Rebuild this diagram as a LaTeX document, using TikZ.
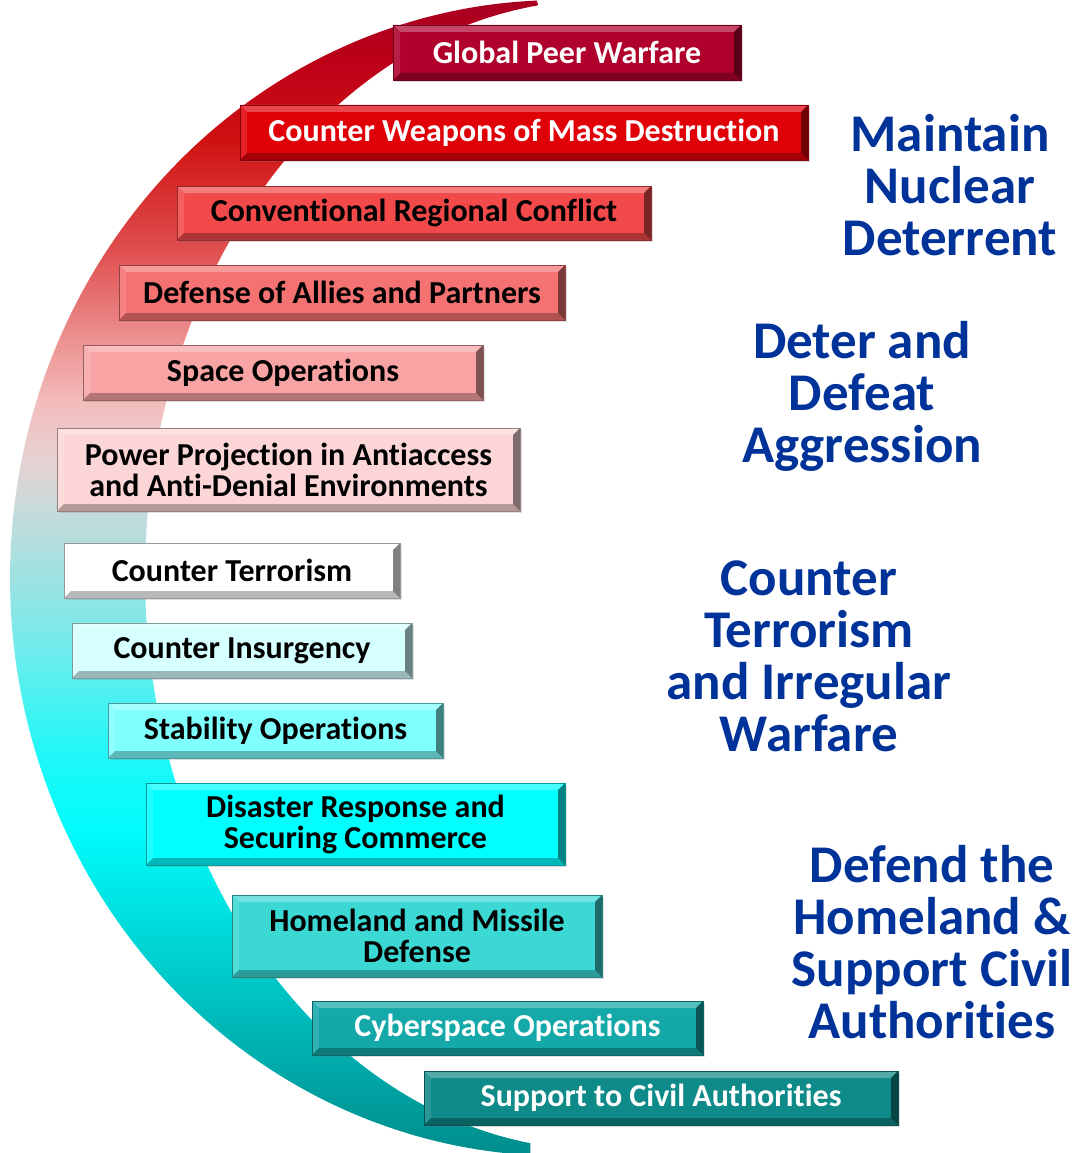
\documentclass[tikz,border=0pt]{standalone}
\usepackage{fontspec}
\setmainfont{Carlito}[Ligatures=NoCommon]
\usetikzlibrary{calc,shadows}
\definecolor{k0}{HTML}{008C8C}
\definecolor{k1}{HTML}{00AEAE}
\definecolor{k2}{HTML}{00D2D2}
\definecolor{k3}{HTML}{00FCFC}
\definecolor{k4}{HTML}{20F8F8}
\definecolor{k5}{HTML}{6EECEC}
\definecolor{k6}{HTML}{9CE2E2}
\definecolor{k7}{HTML}{BEDCDC}
\definecolor{k8}{HTML}{E6D2D2}
\definecolor{k9}{HTML}{F2BCBC}
\definecolor{k10}{HTML}{EC8A8A}
\definecolor{k11}{HTML}{E05050}
\definecolor{k12}{HTML}{D01212}
\definecolor{k13}{HTML}{BC0018}
\definecolor{k14}{HTML}{A80020}
\pgfdeclareverticalshading{cres}{100bp}{color(0bp)=(k0); color(25bp)=(k0); color(29.4bp)=(k1); color(33.8bp)=(k2); color(39bp)=(k3); color(42.4bp)=(k4); color(46.8bp)=(k5); color(49.8bp)=(k6); color(52.4bp)=(k7); color(55bp)=(k8); color(57.6bp)=(k9); color(60.7bp)=(k10); color(64.1bp)=(k11); color(68.9bp)=(k12); color(72.4bp)=(k13); color(75bp)=(k14); color(100bp)=(k14)}
\definecolor{bgpw}{HTML}{B0002C}
\definecolor{bcwmd}{HTML}{E00008}
\definecolor{bcrc}{HTML}{F24A4A}
\definecolor{bdap}{HTML}{F47272}
\definecolor{bspo}{HTML}{F8A4A4}
\definecolor{bppa}{HTML}{FCD6D6}
\definecolor{bct}{HTML}{FFFFFF}
\definecolor{bci}{HTML}{D6FFFF}
\definecolor{bso}{HTML}{80FFFF}
\definecolor{bdr}{HTML}{00FFFF}
\definecolor{bhmd}{HTML}{3CD8D4}
\definecolor{bco}{HTML}{14A8A8}
\definecolor{bsca}{HTML}{0E8A88}
\definecolor{navy}{HTML}{003399}
\tikzset{
  bev/.style={rectangle, inner sep=0pt, fill=#1, draw=#1!60!black, line width=0.7pt,
    font=\bfseries\fontsize{32}{31}\selectfont, align=center,
    drop shadow={shadow xshift=2pt, shadow yshift=-2pt, opacity=0.25},
    path picture={
      \coordinate (@nw) at (path picture bounding box.north west);
      \coordinate (@se) at (path picture bounding box.south east);
      \coordinate (@ne) at (path picture bounding box.north east);
      \coordinate (@sw) at (path picture bounding box.south west);
      \fill[#1!72!white] (@nw) -- (@ne) -- ($(@ne)+(-7pt,-7pt)$) -- ($(@nw)+(7pt,-7pt)$) -- cycle;
      \fill[#1!88!white] (@nw) -- ($(@nw)+(7pt,-7pt)$) -- ($(@sw)+(7pt,7pt)$) -- (@sw) -- cycle;
      \fill[#1!72!black] (@sw) -- ($(@sw)+(7pt,7pt)$) -- ($(@se)+(-7pt,7pt)$) -- (@se) -- cycle;
      \fill[#1!50!black] (@ne) -- (@se) -- ($(@se)+(-7pt,7pt)$) -- ($(@ne)+(-7pt,-7pt)$) -- cycle;
    }},
  lbl/.style={font=\bfseries\fontsize{53}{52}\selectfont, text=navy, align=center, inner sep=0pt, anchor=north}
}
\begin{document}
\begin{tikzpicture}[x=1pt,y=-1pt]
\useasboundingbox (0,0) rectangle (1076,1153);
% crescent
\shade[shading=cres] plot[domain=2.4:176.9, samples=160] ({560-550*sin(\x)},{578-578*cos(\x)})
  -- plot[domain=171.2:7.9, samples=160] ({600-455*sin(\x)},{575-575*cos(\x)}) -- cycle;
% boxes
\node[bev=bgpw, text=white, minimum width=348pt, minimum height=55pt] (gpw) at (567,52.5) {Global Peer Warfare};
\node[bev=bcwmd, text=white, minimum width=568pt, minimum height=55pt] (cwmd) at (524,132.5) {Counter Weapons of Mass Destruction};
\node[bev=bcrc, text=black, minimum width=474pt, minimum height=54pt] (crc) at (414,213) {Conventional Regional Conflict};
\node[bev=bdap, text=black, minimum width=446pt, minimum height=55pt] (dap) at (342,292.5) {Defense of Allies and Partners};
\node[bev=bspo, text=black, minimum width=400pt, minimum height=55pt] (spo) at (283,372.5) {Space Operations};
\node[bev=bppa, text=black, minimum width=463pt, minimum height=83pt] (ppa) at (288.5,469.5) {Power Projection in Antiaccess\\and Anti-Denial Environments};
\node[bev=bct, text=black, minimum width=336pt, minimum height=55pt] (ct) at (232,570.5) {Counter Terrorism};
\node[bev=bci, text=black, minimum width=340pt, minimum height=55pt] (ci) at (242,650.5) {Counter Insurgency};
\node[bev=bso, text=black, minimum width=335pt, minimum height=55pt] (so) at (275.5,730.5) {Stability Operations};
\node[bev=bdr, text=black, minimum width=419pt, minimum height=82pt] (drsc) at (355.5,824) {Disaster Response and\\Securing Commerce};
\node[bev=bhmd, text=black, minimum width=370pt, minimum height=82pt] (hmd) at (417,936) {Homeland and Missile\\Defense};
\node[bev=bco, text=white, minimum width=391pt, minimum height=54pt] (co) at (507.5,1028) {Cyberspace Operations};
\node[bev=bsca, text=white, minimum width=474pt, minimum height=54pt] (sca) at (661,1098) {Support to Civil Authorities};
% mission labels
\node[lbl] (mnd) at (950,114) {Maintain\\Nuclear\\Deterrent};
\node[lbl] (dda) at (862,321) {Deter and\\Defeat\\Aggression};
\node[lbl] (ctiw) at (809,561) {Counter\\Terrorism\\and Irregular\\Warfare};
\node[lbl] (dhsc) at (932,845) {Defend the\\Homeland \&\\Support Civil\\Authorities};
\end{tikzpicture}
\end{document}
